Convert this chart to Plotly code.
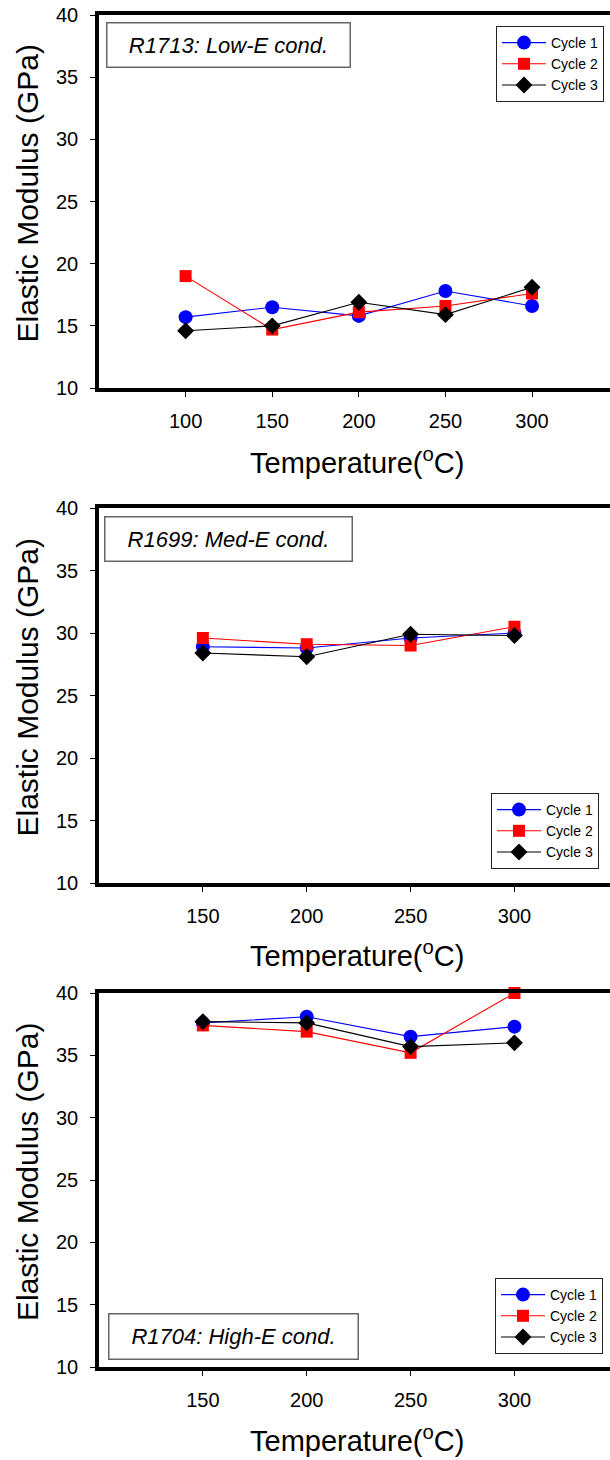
import plotly.graph_objects as go

# Elastic modulus (GPa) versus temperature (°C) for three loading cycles
temps_low = [100, 150, 200, 250, 300]
low_cycle1 = [15.7, 16.5, 15.8, 17.8, 16.6]
low_cycle2 = [19.0, 14.7, 16.1, 16.6, 17.6]
low_cycle3 = [14.6, 15.0, 16.9, 15.9, 18.1]

temps_med = [150, 200, 250, 300]
med_cycle1 = [28.9, 28.8, 29.6, 30.0]
med_cycle2 = [29.6, 29.1, 29.0, 30.5]
med_cycle3 = [28.4, 28.1, 29.9, 29.8]

temps_high = [150, 200, 250, 300]
high_cycle1 = [37.6, 38.1, 36.5, 37.3]
high_cycle2 = [37.4, 36.9, 35.2, 40.0]
high_cycle3 = [37.7, 37.6, 35.7, 36.0]

cycle_names = ["Cycle 1", "Cycle 2", "Cycle 3"]
panel_labels = ["R1713: Low-E cond.", "R1699: Med-E cond.", "R1704: High-E cond."]
y_ticks = [10, 15, 20, 25, 30, 35, 40]
x_ticks_low = [100, 150, 200, 250, 300]
x_ticks_other = [150, 200, 250, 300]

W, H = 610, 1460
FONT = "Arial, Liberation Sans, sans-serif"

styles = [
    dict(color="#0000FF", symbol="circle", size=14),
    dict(color="#FF0000", symbol="square", size=12),
    dict(color="#000000", symbol="diamond", size=13),
]

def py(px):
    return 1 - px / H

# panel pixel geometry: (top, bottom)
panels = [(15, 388), (508, 883), (993, 1367)]
x_left = 99

fig = go.Figure()

datasets = [
    (temps_low, [low_cycle1, low_cycle2, low_cycle3], [50, 345], x_ticks_low),
    (temps_med, [med_cycle1, med_cycle2, med_cycle3], [100, 346], x_ticks_other),
    (temps_high, [high_cycle1, high_cycle2, high_cycle3], [100, 346], x_ticks_other),
]

legend_pos = [(496, 26), (491, 793), (495, 1278)]
label_boxes = [(106, 22, 242, 43), (104, 516, 246, 43), (108, 1313, 248, 44)]
xtitle_y = [461, 954, 1439]

for i, (temps, series, xr, xt) in enumerate(datasets):
    n = "" if i == 0 else str(i + 1)
    leg = "legend" if i == 0 else f"legend{i + 1}"
    for name, vals, st in zip(cycle_names, series, styles):
        fig.add_trace(go.Scatter(
            x=temps, y=vals, name=name, mode="lines+markers",
            xaxis="x" + n, yaxis="y" + n, legend=leg,
            line=dict(color=st["color"], width=1.1),
            marker=dict(color=st["color"], symbol=st["symbol"], size=st["size"], line=dict(width=0)),
            cliponaxis=False,
        ))
    top, bot = panels[i]
    axis_common = dict(
        showline=True, linecolor="black", linewidth=3.5,
        ticks="outside", ticklen=5, tickwidth=1, tickcolor="black",
        showgrid=False, zeroline=False, automargin=False,
        tickfont=dict(family=FONT, size=20, color="black"),
    )
    fig.update_layout(**{
        "xaxis" + n: dict(
            domain=[x_left / W, 1], range=xr, tickvals=xt, anchor="y" + n,
            mirror=True, ticklabelstandoff=7, **axis_common),
        "yaxis" + n: dict(
            domain=[py(bot), py(top)], range=[10, 40], tickvals=y_ticks, anchor="x" + n,
            mirror=False, ticklabelstandoff=8, **axis_common),
    })
    lx, ly = legend_pos[i]
    fig.update_layout(**{
        leg: dict(
            x=lx / W, y=py(ly), xanchor="left", yanchor="top",
            bgcolor="white", bordercolor="#222222", borderwidth=1,
            font=dict(family=FONT, size=14, color="black"),
            tracegroupgap=0, itemwidth=44,
        )
    })
    bx, by, bw, bh = label_boxes[i]
    fig.add_annotation(
        xref="paper", yref="paper", x=bx / W, y=py(by), xanchor="left", yanchor="top",
        text="<i>" + panel_labels[i] + "</i>", showarrow=False,
        width=bw, height=bh, align="center", valign="middle",
        font=dict(family=FONT, size=22, color="black"),
        bgcolor="white", bordercolor="#666666", borderwidth=1.5, borderpad=0,
    )
    # axis titles
    fig.add_annotation(
        xref="paper", yref="paper", x=27 / W, y=py((top + bot) / 2 - 8),
        text="Elastic Modulus (GPa)", textangle=-90, showarrow=False,
        xanchor="center", yanchor="middle",
        font=dict(family=FONT, size=30, color="black"),
    )
    fig.add_annotation(
        xref="paper", yref="paper", x=357 / W, y=py(xtitle_y[i]),
        text="Temperature(<sup>o</sup>C)", showarrow=False,
        xanchor="center", yanchor="middle",
        font=dict(family=FONT, size=29, color="black"),
    )

fig.update_layout(
    width=W, height=H, margin=dict(l=0, r=0, t=0, b=0, autoexpand=False),
    paper_bgcolor="white", plot_bgcolor="white",
    showlegend=True,
)

fig.write_html("out.html", post_script="document.body.style.margin='0';")
